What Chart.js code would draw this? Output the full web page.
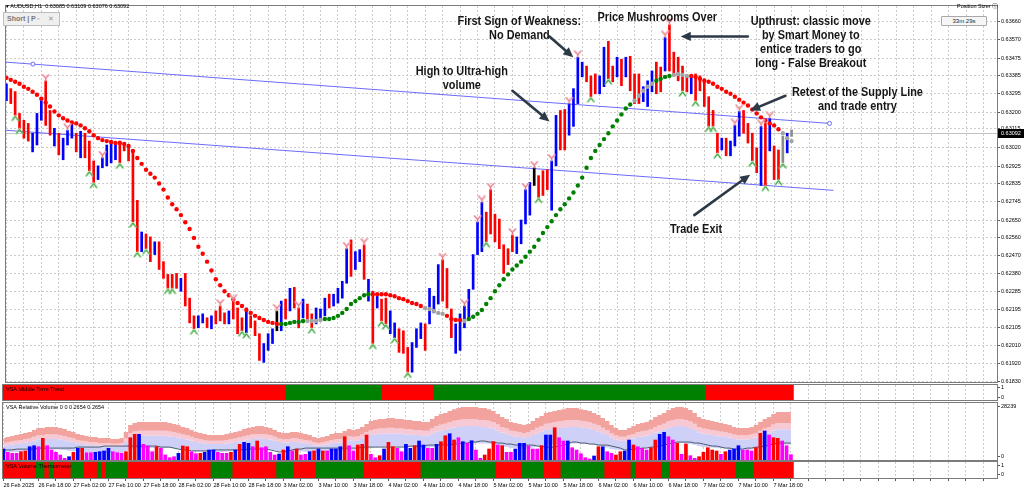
<!DOCTYPE html>
<html>
<head>
<meta charset="utf-8">
<script src="https://cdn.jsdelivr.net/npm/chart.js@4.4.1/dist/chart.umd.min.js"></script>
<style>
  html, body { margin: 0; padding: 0; background: #fff; }
  #wrap { position: relative; width: 1024px; height: 492px; overflow: hidden; background: #fff; }
  #wrap canvas { position: absolute; left: 0; }
  .shortbox { position: absolute; left: 3px; top: 12px; width: 52px; height: 12px; background: #efefef; border: 1px solid #bdbdbd;
    font: bold 7px 'Liberation Sans', Arial, sans-serif; color: #777; line-height: 12px; padding-left: 3px; box-sizing: content-box; }
  .shortbox .ic { position: absolute; top: 0; font-weight: normal; color: #999; }
  .timer { position: absolute; left: 941px; top: 16px; width: 44px; height: 8px; background: #f6f6f6; border: 1px solid #a9a9a9; border-radius: 1px;
    font: 6px 'Liberation Sans', Arial, sans-serif; color: #222; line-height: 8px; text-align: center; }
</style>
</head>
<body>
<div id="wrap">
  <canvas id="cThermo" width="1024" height="36" style="top:456px"></canvas>
  <canvas id="cVol" width="1024" height="69" style="top:397px"></canvas>
  <canvas id="cTrend" width="1024" height="27" style="top:379px"></canvas>
  <canvas id="cMain" width="1024" height="388" style="top:0px"></canvas>
  <div class="shortbox">Short | P<span class="ic" style="left:33px">&#9643;</span><span class="ic" style="left:44px">&#10005;</span></div>
  <div class="timer">33m 29s</div>
</div>
<script>
// ---- data (26 Feb 10:00 .. 7 Mar 22:00) ----
const timeLabels = ['26 Feb 2025', '26 Feb 18:00', '27 Feb 02:00', '27 Feb 10:00', '27 Feb 18:00', '28 Feb 02:00',
  '28 Feb 10:00', '28 Feb 18:00', '3 Mar 02:00', '3 Mar 10:00', '3 Mar 18:00', '4 Mar 02:00', '4 Mar 10:00',
  '4 Mar 18:00', '5 Mar 02:00', '5 Mar 10:00', '5 Mar 18:00', '6 Mar 02:00', '6 Mar 10:00', '6 Mar 18:00',
  '7 Mar 02:00', '7 Mar 10:00', '7 Mar 18:00'];

const priceTicks = [0.63660, 0.63570, 0.63475, 0.63385, 0.63295, 0.63200, 0.63115, 0.63020, 0.62925, 0.62835,
  0.62745, 0.62650, 0.62560, 0.62470, 0.62380, 0.62285, 0.62195, 0.62105, 0.62010, 0.61920, 0.61830];

const highs = [
  0.63344, 0.63319, 0.63304, 0.63193, 0.63158, 0.63142, 0.63092, 0.63193, 0.63258, 0.63359,
  0.63208, 0.63117, 0.63092, 0.63067, 0.63107, 0.63153, 0.63092, 0.63102, 0.63092, 0.63052,
  0.62951, 0.62926, 0.62967, 0.63032, 0.63052, 0.63042, 0.63052, 0.63042, 0.63032, 0.63007,
  0.62750, 0.62589, 0.62579, 0.62564, 0.62539, 0.62539, 0.62438, 0.62373, 0.62373, 0.62378,
  0.62353, 0.62378, 0.62252, 0.62162, 0.62162, 0.62172, 0.62152, 0.62162, 0.62187, 0.62212,
  0.62177, 0.62187, 0.62237, 0.62202, 0.62152, 0.62202, 0.62162, 0.62136, 0.62071, 0.62021,
  0.62071, 0.62096, 0.62187, 0.62237, 0.62247, 0.62302, 0.62307, 0.62202, 0.62247, 0.62222,
  0.62172, 0.62202, 0.62197, 0.62252, 0.62272, 0.62272, 0.62302, 0.62338, 0.62504, 0.62549,
  0.62489, 0.62499, 0.62524, 0.62348, 0.62287, 0.62272, 0.62247, 0.62252, 0.62187, 0.62126,
  0.62096, 0.62086, 0.62001, 0.62026, 0.62096, 0.62126, 0.62121, 0.62302, 0.62262, 0.62423,
  0.62448, 0.62403, 0.62197, 0.62121, 0.62172, 0.62212, 0.62297, 0.62474, 0.62640, 0.62740,
  0.62690, 0.62805, 0.62680, 0.62655, 0.62524, 0.62504, 0.62574, 0.62564, 0.62650, 0.62805,
  0.62841, 0.62916, 0.62876, 0.62901, 0.62906, 0.62951, 0.63183, 0.63208, 0.63213, 0.63243,
  0.63319, 0.63479, 0.63454, 0.63434, 0.63384, 0.63394, 0.63384, 0.63530, 0.63560, 0.63434,
  0.63479, 0.63469, 0.63479, 0.63484, 0.63394, 0.63394, 0.63329, 0.63359, 0.63409, 0.63454,
  0.63429, 0.63580, 0.63645, 0.63505, 0.63479, 0.63434, 0.63379, 0.63379, 0.63394, 0.63384,
  0.63369, 0.63278, 0.63208, 0.63092, 0.63067, 0.63067, 0.63052, 0.63132, 0.63203, 0.63208,
  0.63142, 0.63092, 0.63017, 0.63127, 0.63142, 0.63168, 0.63027, 0.63007, 0.63077, 0.63092,
  0.63109];

const lows = [
  0.63258, 0.63243, 0.63183, 0.63117, 0.63067, 0.63052, 0.62997, 0.63032, 0.63158, 0.63132,
  0.63082, 0.63027, 0.62982, 0.62957, 0.63032, 0.63067, 0.62997, 0.62967, 0.62967, 0.62901,
  0.62841, 0.62856, 0.62916, 0.62926, 0.62941, 0.62957, 0.62941, 0.63002, 0.62951, 0.62640,
  0.62489, 0.62489, 0.62504, 0.62438, 0.62474, 0.62398, 0.62353, 0.62302, 0.62302, 0.62302,
  0.62287, 0.62212, 0.62126, 0.62096, 0.62101, 0.62126, 0.62101, 0.62096, 0.62121, 0.62136,
  0.62121, 0.62121, 0.62146, 0.62071, 0.62086, 0.62076, 0.62101, 0.62061, 0.61935, 0.61925,
  0.61986, 0.62021, 0.62086, 0.62086, 0.62146, 0.62187, 0.62202, 0.62101, 0.62152, 0.62136,
  0.62101, 0.62121, 0.62136, 0.62162, 0.62202, 0.62212, 0.62227, 0.62252, 0.62328, 0.62363,
  0.62398, 0.62438, 0.62348, 0.62237, 0.62021, 0.62202, 0.62136, 0.62121, 0.62071, 0.62051,
  0.61976, 0.61971, 0.61875, 0.61875, 0.62001, 0.62046, 0.61986, 0.62121, 0.62177, 0.62222,
  0.62237, 0.62202, 0.62051, 0.61971, 0.61986, 0.62101, 0.62152, 0.62297, 0.62474, 0.62489,
  0.62539, 0.62579, 0.62539, 0.62504, 0.62378, 0.62423, 0.62489, 0.62479, 0.62529, 0.62630,
  0.62675, 0.62826, 0.62765, 0.62775, 0.62805, 0.62700, 0.62926, 0.63007, 0.63007, 0.63082,
  0.63127, 0.63243, 0.63379, 0.63354, 0.63278, 0.63293, 0.63293, 0.63329, 0.63369, 0.63354,
  0.63379, 0.63334, 0.63379, 0.63308, 0.63243, 0.63243, 0.63253, 0.63228, 0.63303, 0.63293,
  0.63303, 0.63409, 0.63409, 0.63384, 0.63359, 0.63308, 0.63303, 0.63293, 0.63258, 0.63308,
  0.63228, 0.63127, 0.63127, 0.62992, 0.63007, 0.62977, 0.62977, 0.63027, 0.63077, 0.63092,
  0.63042, 0.62951, 0.62891, 0.62826, 0.62826, 0.63002, 0.62856, 0.62856, 0.62941, 0.62992,
  0.63076];

// u = up (blue), d = down (red), k = black, g = grey
const barDir = 'uddddduuud' + 'duduuududd' + 'duuuuudddd' + 'dudduddddd' + 'uddduududd' +
  'dudddudddu' + 'uukududdud' + 'duuuduuuud' + 'uudududduu' + 'ddduuuduuu' +
  'ddduuuuuuu' + 'ddddddduuu' + 'ukddduuddu' + 'uuuddduudd' + 'ududdduuud' +
  'dudddddudd' + 'dddduduuud' + 'dddududdgug';

const maValues = [
  0.63374, 0.63364, 0.63354, 0.63344, 0.63329, 0.63318, 0.63303, 0.63288, 0.63268, 0.63248,
  0.63228, 0.63203, 0.63183, 0.63168, 0.63157, 0.63147, 0.63142, 0.63132, 0.63117, 0.63102,
  0.63082, 0.63067, 0.63057, 0.63052, 0.63047, 0.63042, 0.63042, 0.63037, 0.63027, 0.63002,
  0.62966, 0.62936, 0.62906, 0.62886, 0.62866, 0.62836, 0.62805, 0.62765, 0.62730, 0.62705,
  0.62675, 0.62639, 0.62604, 0.62559, 0.62514, 0.62478, 0.62438, 0.62393, 0.62348, 0.62318,
  0.62287, 0.62267, 0.62247, 0.62227, 0.62212, 0.62192, 0.62177, 0.62162, 0.62151, 0.62141,
  0.62131, 0.62126, 0.62121, 0.62121, 0.62121, 0.62126, 0.62131, 0.62131, 0.62136, 0.62136,
  0.62136, 0.62136, 0.62141, 0.62146, 0.62146, 0.62151, 0.62162, 0.62177, 0.62197, 0.62222,
  0.62237, 0.62252, 0.62267, 0.62272, 0.62272, 0.62272, 0.62272, 0.62272, 0.62267, 0.62262,
  0.62252, 0.62247, 0.62237, 0.62227, 0.62222, 0.62212, 0.62202, 0.62197, 0.62187, 0.62177,
  0.62172, 0.62162, 0.62146, 0.62141, 0.62141, 0.62136, 0.62146, 0.62157, 0.62172, 0.62192,
  0.62222, 0.62252, 0.62287, 0.62318, 0.62348, 0.62373, 0.62398, 0.62418, 0.62438, 0.62463,
  0.62489, 0.62514, 0.62549, 0.62584, 0.62614, 0.62644, 0.62675, 0.62705, 0.62730, 0.62760,
  0.62790, 0.62826, 0.62866, 0.62916, 0.62966, 0.63002, 0.63032, 0.63062, 0.63092, 0.63127,
  0.63157, 0.63188, 0.63218, 0.63238, 0.63258, 0.63283, 0.63308, 0.63329, 0.63344, 0.63359,
  0.63369, 0.63379, 0.63384, 0.63389, 0.63394, 0.63389, 0.63384, 0.63384, 0.63379, 0.63369,
  0.63359, 0.63354, 0.63344, 0.63329, 0.63318, 0.63303, 0.63293, 0.63278, 0.63263, 0.63248,
  0.63233, 0.63213, 0.63193, 0.63173, 0.63157, 0.63142, 0.63132, 0.63112, 0.63092, 0.63067,
  0.63052];
// colour of the moving-average dots: [first bar, state]
const maRuns = [[0, 'r'], [63, 'g'], [69, 'x'], [73, 'g'], [84, 'r'], [96, 'x'], [101, 'r'], [105, 'x'],
  [106, 'g'], [144, 'x'], [149, 'g'], [153, 'x'], [157, 'r'], [178, 'x']];

const topSignals = [9, 14, 22, 49, 52, 62, 67, 78, 82, 100, 105, 108, 109, 111, 116, 119, 121, 125, 129, 131,
  151, 152, 167, 168, 173, 175];
const bottomSignals = [2, 3, 19, 20, 26, 29, 30, 32, 37, 38, 43, 54, 55, 70, 84, 86, 87, 89, 92, 110, 122, 134,
  138, 155, 158, 161, 162, 163, 171, 174, 177, 178];

// hand drawn trend lines (bar index, price)
const supplyLine = [{x: -0.1, y: 0.63454}, {x: 6.07, y: 0.63444}, {x: 188.7, y: 0.63142}];
const demandLine = [{x: -0.1, y: 0.63107}, {x: 189.6, y: 0.62801}];
const lastPrice = 0.63092;

const trendRuns = [[0, 'r'], [65, 'g'], [87, 'r'], [99, 'g'], [161, 'r']];
const thermoRuns = [[0, 'r'], [8, 'g'], [10, 'r'], [11, 'g'], [12, 'r'], [16, 'g'], [19, 'r'], [22, 'g'], [23, 'r'],
  [24, 'g'], [29, 'r'], [48, 'g'], [53, 'r'], [63, 'g'], [67, 'r'], [72, 'g'], [83, 'r'], [96, 'g'], [113, 'r'],
  [119, 'g'], [124, 'r'], [128, 'g'], [138, 'r'], [144, 'g'], [145, 'r'], [151, 'g'], [153, 'r'], [168, 'g'], [172, 'r']];

// relative volume, thousands of ticks
const volume = [
  5.45, 3.81, 3.32, 3.32, 4.11, 4.46, 6.58, 7.08, 6.58, 10.74,
  7.08, 4.95, 3.81, 2.48, 0.84, 1.63, 3.81, 5.79, 5.79, 3.61,
  3.61, 3.81, 4.11, 4.46, 5.79, 4.11, 3.61, 3.32, 4.11, 11.04,
  12.72, 12.72, 7.77, 6.93, 4.11, 6.58, 5.79, 2.48, 1.14, 1.63,
  3.32, 6.93, 6.58, 4.11, 3.12, 3.32, 3.81, 4.95, 4.95, 3.81,
  3.32, 3.32, 3.81, 4.95, 7.77, 8.76, 8.27, 6.58, 9.41, 6.09,
  6.58, 3.81, 2.48, 2.97, 4.95, 6.58, 4.46, 5.45, 2.48, 2.82,
  4.11, 4.46, 5.45, 4.46, 4.46, 5.45, 5.45, 6.58, 11.53, 7.08,
  4.46, 7.43, 7.77, 12.38, 2.82, 1.14, 2.13, 5.45, 8.76, 6.58,
  5.79, 4.11, 7.77, 5.79, 7.08, 9.41, 7.43, 5.79, 5.79, 7.77,
  9.06, 12.03, 13.02, 9.90, 11.04, 9.06, 8.27, 9.55, 4.95, 0.84,
  2.48, 5.45, 9.06, 7.43, 7.08, 3.81, 3.81, 5.45, 8.27, 8.27,
  6.93, 5.45, 5.45, 7.08, 12.38, 12.38, 15.99, 11.04, 9.41, 9.41,
  6.09, 4.95, 3.12, 1.14, 0.50, 1.98, 6.58, 6.58, 4.11, 3.32,
  2.48, 4.11, 4.46, 9.90, 7.43, 6.58, 5.79, 4.95, 6.09, 9.90,
  12.72, 13.71, 11.53, 9.90, 8.27, 2.82, 7.92, 2.13, 0.84, 1.63,
  3.81, 6.09, 4.95, 4.46, 2.82, 4.11, 4.95, 5.45, 7.08, 4.95,
  4.95, 4.46, 6.09, 13.22, 14.36, 12.38, 11.04, 10.74, 9.41, 7.08,
  2.654];
// b = blue, m = magenta, r = red
const volColor = 'bmmmrrbbmr' + 'mmmmmbrbrm' + 'mbbbbmmmrr' + 'rbmmmrmmmm' + 'brrmmrbbbm' +
  'mmrbrbbmrm' + 'mmmbrbmrmm' + 'brbrmbbbrm' + 'mrrrmmrbrr' + 'mmbbrbbmmb' +
  'rrbrmbmbmm' + 'rrrmrmmbbb' + 'mmmrbbrmmb' + 'mmmmmbrbmm' + 'rrbbrmmmrr' +
  'bbmmrmrmmr' + 'rrrrmrbbbm' + 'mmrrbmrrmmm';

const volTop = [
  10.9, 11.4, 11.9, 12.4, 12.9, 13.4, 13.9, 14.9, 15.8, 15.8, 16.3, 16.3, 16.3, 15.8, 15.3, 14.4, 13.9, 12.9, 12.4, 11.9,
  11.4, 11.4, 10.9, 10.9, 10.9, 10.4, 10.4, 10.9, 13.9, 17.3, 18.3, 18.8, 18.8, 18.8, 18.8, 18.8, 18.8, 18.8, 18.3, 17.8,
  17.3, 16.3, 15.8, 14.9, 13.9, 13.4, 12.9, 12.4, 12.4, 12.4, 12.4, 12.9, 13.4, 13.9, 14.4, 15.3, 15.8, 16.3, 16.8, 16.8,
  16.3, 15.8, 14.9, 13.9, 13.4, 13.4, 13.9, 13.9, 13.4, 12.9, 12.4, 11.4, 10.9, 11.4, 11.9, 12.9, 13.4, 13.4, 14.4, 15.3,
  14.9, 15.3, 16.3, 17.8, 19.3, 19.8, 20.3, 20.3, 20.8, 20.8, 20.3, 20.3, 19.8, 19.8, 19.3, 19.3, 18.8, 18.8, 20.3, 21.8,
  22.8, 23.3, 24.3, 25.2, 25.7, 26.2, 26.2, 26.2, 26.2, 25.7, 25.7, 25.2, 24.3, 22.8, 21.3, 20.3, 18.8, 18.3, 17.8, 17.3,
  17.8, 19.3, 20.8, 21.8, 23.3, 23.8, 24.3, 24.8, 25.2, 25.7, 25.7, 25.7, 25.2, 24.8, 24.3, 23.3, 22.3, 20.8, 19.3, 17.3,
  15.8, 14.9, 14.9, 15.8, 16.8, 17.8, 18.3, 18.8, 19.8, 21.3, 22.3, 23.3, 24.8, 25.7, 26.2, 26.2, 25.7, 24.8, 23.3, 21.3,
  20.3, 19.8, 19.3, 18.8, 18.3, 17.8, 17.3, 16.3, 15.8, 15.8, 15.8, 16.3, 17.3, 18.8, 20.3, 21.3, 22.8, 23.8, 23.8, 23.8,
  23.8];
const volBandA = [
  8.4, 8.8, 9.2, 9.5, 9.9, 10.3, 10.7, 11.5, 12.2, 12.2, 12.6, 12.6, 12.6, 12.2, 11.8, 11.1, 10.7, 9.9, 9.5, 9.2,
  8.8, 8.8, 8.4, 8.4, 8.4, 8.0, 8.0, 8.4, 10.7, 13.3, 14.1, 14.5, 14.5, 14.5, 14.5, 14.5, 14.5, 14.5, 14.1, 13.7,
  13.3, 12.6, 12.2, 11.5, 10.7, 10.3, 9.9, 9.5, 9.5, 9.5, 9.5, 9.9, 10.3, 10.7, 11.1, 11.8, 12.2, 12.6, 12.9, 12.9,
  12.6, 12.2, 11.5, 10.7, 10.3, 10.3, 10.7, 10.7, 10.3, 9.9, 9.5, 8.8, 8.4, 8.8, 9.2, 9.9, 10.3, 10.3, 11.1, 11.8,
  11.5, 11.8, 12.6, 13.7, 14.9, 15.2, 15.6, 15.6, 16.0, 16.0, 15.6, 15.6, 15.2, 15.2, 14.9, 14.9, 14.5, 14.5, 15.6, 16.8,
  17.6, 17.9, 18.7, 19.4, 19.8, 20.2, 20.2, 20.2, 20.2, 19.8, 19.8, 19.4, 18.7, 17.6, 16.4, 15.6, 14.5, 14.1, 13.7, 13.3,
  13.7, 14.9, 16.0, 16.8, 17.9, 18.3, 18.7, 19.1, 19.4, 19.8, 19.8, 19.8, 19.4, 19.1, 18.7, 17.9, 17.2, 16.0, 14.9, 13.3,
  12.2, 11.5, 11.5, 12.2, 12.9, 13.7, 14.1, 14.5, 15.2, 16.4, 17.2, 17.9, 19.1, 19.8, 20.2, 20.2, 19.8, 19.1, 17.9, 16.4,
  15.6, 15.2, 14.9, 14.5, 14.1, 13.7, 13.3, 12.6, 12.2, 12.2, 12.2, 12.6, 13.3, 14.5, 15.6, 16.4, 17.6, 18.3, 18.3, 18.3,
  18.3];
const volBandB = [
  7.0, 7.3, 7.6, 7.9, 8.3, 8.6, 8.9, 9.5, 10.1, 10.1, 10.4, 10.4, 10.4, 10.1, 9.8, 9.2, 8.9, 8.3, 7.9, 7.6,
  7.3, 7.3, 7.0, 7.0, 7.0, 6.7, 6.7, 7.0, 8.9, 11.1, 11.7, 12.0, 12.0, 12.0, 12.0, 12.0, 12.0, 12.0, 11.7, 11.4,
  11.1, 10.4, 10.1, 9.5, 8.9, 8.6, 8.3, 7.9, 7.9, 7.9, 7.9, 8.3, 8.6, 8.9, 9.2, 9.8, 10.1, 10.4, 10.8, 10.8,
  10.4, 10.1, 9.5, 8.9, 8.6, 8.6, 8.9, 8.9, 8.6, 8.3, 7.9, 7.3, 7.0, 7.3, 7.6, 8.3, 8.6, 8.6, 9.2, 9.8,
  9.5, 9.8, 10.4, 11.4, 12.4, 12.7, 13.0, 13.0, 13.3, 13.3, 13.0, 13.0, 12.7, 12.7, 12.4, 12.4, 12.0, 12.0, 13.0, 14.0,
  14.6, 14.9, 15.6, 16.1, 16.4, 16.8, 16.8, 16.8, 16.8, 16.4, 16.4, 16.1, 15.6, 14.6, 13.6, 13.0, 12.0, 11.7, 11.4, 11.1,
  11.4, 12.4, 13.3, 14.0, 14.9, 15.2, 15.6, 15.9, 16.1, 16.4, 16.4, 16.4, 16.1, 15.9, 15.6, 14.9, 14.3, 13.3, 12.4, 11.1,
  10.1, 9.5, 9.5, 10.1, 10.8, 11.4, 11.7, 12.0, 12.7, 13.6, 14.3, 14.9, 15.9, 16.4, 16.8, 16.8, 16.4, 15.9, 14.9, 13.6,
  13.0, 12.7, 12.4, 12.0, 11.7, 11.4, 11.1, 10.4, 10.1, 10.1, 10.1, 10.4, 11.1, 12.0, 13.0, 13.6, 14.6, 15.2, 15.2, 15.2,
  15.2];
const volBandC = [
  3.5, 3.6, 3.8, 4.0, 4.1, 4.3, 4.4, 4.8, 5.1, 5.1, 5.2, 5.2, 5.2, 5.1, 4.9, 4.6, 4.4, 4.1, 4.0, 3.8,
  3.6, 3.6, 3.5, 3.5, 3.5, 3.3, 3.3, 3.5, 4.4, 5.5, 5.9, 6.0, 6.0, 6.0, 6.0, 6.0, 6.0, 6.0, 5.9, 5.7,
  5.5, 5.2, 5.1, 4.8, 4.4, 4.3, 4.1, 4.0, 4.0, 4.0, 4.0, 4.1, 4.3, 4.4, 4.6, 4.9, 5.1, 5.2, 5.4, 5.4,
  5.2, 5.1, 4.8, 4.4, 4.3, 4.3, 4.4, 4.4, 4.3, 4.1, 4.0, 3.6, 3.5, 3.6, 3.8, 4.1, 4.3, 4.3, 4.6, 4.9,
  4.8, 4.9, 5.2, 5.7, 6.2, 6.3, 6.5, 6.5, 6.7, 6.7, 6.5, 6.5, 6.3, 6.3, 6.2, 6.2, 6.0, 6.0, 6.5, 7.0,
  7.3, 7.5, 7.8, 8.1, 8.2, 8.4, 8.4, 8.4, 8.4, 8.2, 8.2, 8.1, 7.8, 7.3, 6.8, 6.5, 6.0, 5.9, 5.7, 5.5,
  5.7, 6.2, 6.7, 7.0, 7.5, 7.6, 7.8, 7.9, 8.1, 8.2, 8.2, 8.2, 8.1, 7.9, 7.8, 7.5, 7.1, 6.7, 6.2, 5.5,
  5.1, 4.8, 4.8, 5.1, 5.4, 5.7, 5.9, 6.0, 6.3, 6.8, 7.1, 7.5, 7.9, 8.2, 8.4, 8.4, 8.2, 7.9, 7.5, 6.8,
  6.5, 6.3, 6.2, 6.0, 5.9, 5.7, 5.5, 5.2, 5.1, 5.1, 5.1, 5.2, 5.5, 6.0, 6.5, 6.8, 7.3, 7.6, 7.6, 7.6,
  7.6];
const volMean = [
  5.0, 5.0, 5.0, 5.4, 5.4, 5.4, 5.4, 5.4, 5.9, 5.9, 5.9, 5.9, 5.9, 5.9, 5.9, 5.9, 5.9, 6.4, 6.4, 6.4,
  6.4, 6.4, 6.4, 6.9, 6.9, 6.9, 6.9, 6.9, 6.9, 6.9, 6.9, 6.9, 6.9, 6.9, 6.9, 6.9, 6.4, 6.4, 6.4, 5.9,
  5.4, 5.0, 5.0, 4.5, 4.5, 4.5, 4.5, 4.5, 5.0, 5.0, 5.0, 5.0, 5.0, 5.0, 5.0, 5.0, 5.4, 5.4, 5.4, 5.4,
  5.4, 5.0, 4.5, 4.0, 4.0, 4.5, 5.0, 5.4, 5.4, 5.9, 5.9, 5.9, 5.9, 5.9, 5.9, 5.9, 5.9, 5.9, 5.9, 5.9,
  5.9, 5.9, 6.4, 6.4, 6.4, 6.4, 6.4, 6.4, 6.4, 6.4, 6.4, 6.4, 6.4, 6.9, 6.9, 6.9, 6.9, 7.4, 7.4, 7.4,
  7.4, 7.4, 7.4, 7.9, 7.9, 8.4, 8.4, 8.9, 8.9, 9.4, 9.4, 8.9, 8.9, 8.4, 8.4, 7.9, 7.9, 7.4, 7.4, 7.4,
  7.4, 7.4, 6.9, 6.9, 6.4, 6.4, 6.4, 6.9, 7.4, 7.9, 8.9, 8.9, 8.4, 8.4, 7.9, 7.9, 7.4, 7.4, 7.4, 6.9,
  6.4, 5.9, 5.0, 5.0, 5.4, 5.4, 5.9, 5.9, 6.4, 6.4, 6.9, 7.4, 7.9, 8.4, 8.9, 8.9, 8.9, 8.9, 8.4, 8.4,
  7.9, 7.4, 6.9, 6.9, 6.4, 5.9, 5.9, 5.4, 5.4, 5.4, 5.9, 5.9, 6.4, 6.4, 6.9, 7.4, 7.9, 8.4, 8.4, 8.4,
  8.4];
const volMax = 28.239;

// chart notes: text anchored at (bar index, price); arrows from -> to
const notes = [
  {lines: ['High to Ultra-high', 'volume'], x: 104.4, y: 0.63409},
  {lines: ['First Sign of Weakness:', 'No Demand'], x: 117.6, y: 0.63660},
  {lines: ['Price Mushrooms Over'], x: 149.2, y: 0.63681},
  {lines: ['Upthrust: classic move', 'by Smart Money to', 'entice traders to go', 'long - False Breakout'], x: 184.4, y: 0.63660},
  {lines: ['Retest of the Supply Line', 'and trade entry'], x: 195.1, y: 0.63298},
  {lines: ['Trade Exit'], x: 158.1, y: 0.62604}
];
const arrows = [
  [116.0, 0.63308, 124.5, 0.63152],
  [124.5, 0.63585, 129.96, 0.63479],
  [169.96, 0.63585, 154.6, 0.63585],
  [178.6, 0.63283, 170.5, 0.63208],
  [157.7, 0.62675, 170.5, 0.62881]
];

// ---- helpers ----
const idx = highs.map((_, i) => i);
const RED = '#ff0000', GREEN = '#008000', BLUE = '#0000ff', MAGENTA = '#ff00ff';
function runColors(runs, map) {
  let k = 0;
  return idx.map(i => {
    while (k + 1 < runs.length && runs[k + 1][0] <= i) k++;
    return map[runs[k][1]];
  });
}
const FONT = "'Liberation Sans', 'DejaVu Sans', Arial, sans-serif";
Chart.defaults.font.family = FONT;
Chart.defaults.font.size = 5.5;
Chart.defaults.color = '#000';

const X_MIN = -0.1, X_MAX = 227.1;
function xAxis(labels) {
  return {
    type: 'linear', min: X_MIN, max: X_MAX, offset: false,
    afterBuildTicks: s => { const t = []; for (let v = 0; v <= X_MAX; v += 4) t.push({value: v}); s.ticks = t; },
    afterFit: s => { s.height = labels ? 14 : 0; },
    grid: {color: '#cccccc', offset: false, drawTicks: labels, tickLength: 3, tickColor: '#555'},
    border: {display: false, dash: [2, 2]},
    ticks: {display: labels, align: 'start', maxRotation: 0, autoSkip: false, padding: 1,
      callback: v => (v % 8 === 0 && timeLabels[v / 8]) ? timeLabels[v / 8] : ''}
  };
}
// labelAt: where the axis writes each label (MT4 keeps them just inside the panel edge)
function yAxis(min, max, ticks, fmt, grid) {
  return {
    position: 'right', min: min, max: max,
    afterBuildTicks: s => { s.ticks = ticks.map(v => ({value: v})); },
    afterFit: s => { s.width = 27; },
    grid: {color: '#cccccc', drawOnChartArea: grid, tickLength: 3, tickColor: '#555'},
    border: {display: false, dash: [2, 2]},
    ticks: {autoSkip: false, padding: 1, callback: fmt}
  };
}
const framePlugin = {
  id: 'frame',
  afterDraw(chart, args, opts) {
    const {ctx, chartArea: a} = chart;
    ctx.save();
    ctx.strokeStyle = '#7c7c7c';
    ctx.lineWidth = 1;
    ctx.strokeRect(a.left - 0.5, a.top - 0.5, a.right - a.left + 1, a.bottom - a.top + 1);
    if (opts && opts.title) {
      ctx.fillStyle = '#000';
      ctx.font = '5.5px ' + FONT;
      ctx.textBaseline = 'top';
      ctx.fillText(opts.title, a.left + 3, a.top + 2);
    }
    ctx.restore();
  }
};
const base = {responsive: false, animation: false, devicePixelRatio: 1, events: []};

function markImg(top) {
  const c = document.createElement('canvas');
  c.width = 9; c.height = 14;
  const g = c.getContext('2d');
  g.lineCap = 'round';
  const path = () => {
    g.beginPath();
    if (top) { g.moveTo(1.5, 1); g.lineTo(4.5, 4.5); g.lineTo(7.5, 1); g.moveTo(4.5, 4.5); g.lineTo(4.5, 6.5); }
    else { g.moveTo(1.5, 12); g.lineTo(4.5, 8); g.lineTo(7.5, 12); }
  };
  g.strokeStyle = top ? '#f7bcc4' : '#98e698'; g.lineWidth = 2; path(); g.stroke();
  g.strokeStyle = top ? '#d9606c' : '#1f6e1f'; g.lineWidth = 0.8; path(); g.stroke();
  return c;
}

// ---- main price panel ----
const mainPlugin = {
  id: 'mainExtras',
  beforeDatasetsDraw(chart) {
    const {ctx, chartArea: a, scales: {y}} = chart;
    const py = Math.round(y.getPixelForValue(lastPrice)) + 0.5;
    ctx.save();
    ctx.strokeStyle = '#c6c6c6';
    ctx.beginPath(); ctx.moveTo(a.left, py); ctx.lineTo(a.right, py); ctx.stroke();
    ctx.restore();
  },
  afterDatasetsDraw(chart) {
    const {ctx, scales: {x, y}} = chart;
    ctx.save();
    ctx.strokeStyle = '#2d3947'; ctx.fillStyle = '#2d3947';
    ctx.lineWidth = 2.6; ctx.lineCap = 'round';
    arrows.forEach(r => {
      const x1 = x.getPixelForValue(r[0]), y1 = y.getPixelForValue(r[1]);
      const x2 = x.getPixelForValue(r[2]), y2 = y.getPixelForValue(r[3]);
      const ang = Math.atan2(y2 - y1, x2 - x1), L = 10, W = 4.6;
      const bx = x2 - L * Math.cos(ang), by = y2 - L * Math.sin(ang);
      ctx.beginPath(); ctx.moveTo(x1, y1); ctx.lineTo(bx, by); ctx.stroke();
      ctx.beginPath(); ctx.moveTo(x2, y2);
      ctx.lineTo(bx - W * Math.sin(ang), by + W * Math.cos(ang));
      ctx.lineTo(bx + W * Math.sin(ang), by - W * Math.cos(ang));
      ctx.closePath(); ctx.fill();
    });
    // narrow bold face: condense a bold sans horizontally
    ctx.fillStyle = '#161616';
    ctx.font = "bold 13px 'Liberation Sans', Arial, sans-serif";
    ctx.textAlign = 'center'; ctx.textBaseline = 'middle';
    notes.forEach(n => {
      const px = x.getPixelForValue(n.x), py = y.getPixelForValue(n.y);
      ctx.save();
      ctx.translate(px, py);
      ctx.scale(0.84, 1);
      n.lines.forEach((t, k) => ctx.fillText(t, 0, k * 14));
      ctx.restore();
    });
    ctx.restore();
  },
  afterDraw(chart) {
    const {ctx, chartArea: a, scales: {y}} = chart;
    const py = Math.round(y.getPixelForValue(lastPrice));
    ctx.save();
    ctx.fillStyle = '#000';
    ctx.fillRect(a.right + 1, py - 4, 27, 9);
    ctx.fillStyle = '#fff';
    ctx.font = '5.5px ' + FONT;
    ctx.textBaseline = 'middle';
    ctx.fillText(lastPrice.toFixed(5), a.right + 4, py + 0.5);
    ctx.fillStyle = '#000';
    ctx.fillText('\u25BE AUDUSD,H1  0.63085 0.63109 0.63076 0.63092', 6, 6);
    ctx.fillText('Position Sizer \u24D8', 957, 6);
    ctx.restore();
  }
};

new Chart(document.getElementById('cMain'), {
  type: 'bar',
  data: {
    datasets: [
      {type: 'scatter', data: topSignals.map(i => ({x: i, y: highs[i]})), pointStyle: markImg(true), pointRadius: 5, order: 0},
      {type: 'scatter', data: bottomSignals.map(i => ({x: i, y: lows[i]})), pointStyle: markImg(false), pointRadius: 5, order: 0},
      {type: 'scatter', data: idx.map(i => ({x: i, y: maValues[i]})), pointRadius: 2.2, pointBorderWidth: 0,
        pointBackgroundColor: runColors(maRuns, {r: RED, g: GREEN, x: '#a3a3a3'}), order: 1},
      {type: 'bar', data: idx.map(i => ({x: i, y: [lows[i], highs[i]]})), barThickness: 2, grouped: false,
        backgroundColor: idx.map(i => ({u: BLUE, d: RED, k: '#000', g: '#8c8c8c'})[barDir[i]]), order: 2},
      {type: 'line', data: supplyLine, borderColor: '#6b6bff', borderWidth: 1, pointRadius: [0, 2, 2],
        pointBackgroundColor: '#fff', pointBorderColor: '#6b6bff', pointBorderWidth: 1, order: 3},
      {type: 'line', data: demandLine, borderColor: '#6b6bff', borderWidth: 1, pointRadius: 0, order: 3}
    ]
  },
  options: Object.assign({}, base, {
    layout: {padding: {left: 3, top: 1, right: 0, bottom: 6}},
    plugins: {legend: {display: false}, tooltip: {enabled: false}, frame: {}},
    scales: {
      x: xAxis(false),
      y: yAxis(0.61825, 0.63740, priceTicks, v => v.toFixed(5), true)
    }
  }),
  plugins: [framePlugin, mainPlugin]
});

// ---- VSA Middle Term Trend ----
// axis labels 1 / 0 sit a few pixels inside the strip, as MT4 draws them
new Chart(document.getElementById('cTrend'), {
  type: 'bar',
  data: {datasets: [{data: idx.map(i => ({x: i, y: [0, 1]})), barThickness: 5, grouped: false,
    backgroundColor: runColors(trendRuns, {r: RED, g: GREEN})}]},
  options: Object.assign({}, base, {
    layout: {padding: {left: 3, top: 6, right: 0, bottom: 6}},
    plugins: {legend: {display: false}, tooltip: {enabled: false}, frame: {title: 'VSA Middle Term Trend'}},
    scales: {x: xAxis(false), y: yAxis(0, 1, [0.17, 0.83], v => (v > 0.5 ? '1' : '0'), false)}
  }),
  plugins: [framePlugin]
});

// ---- VSA Relative Volume ----
const band = (data, fill, color, order) => ({type: 'line', data: idx.map(i => ({x: i, y: data[i]})), fill: fill,
  backgroundColor: color, borderWidth: 0, pointRadius: 0, stepped: 'middle', order: order});
new Chart(document.getElementById('cVol'), {
  type: 'bar',
  data: {
    datasets: [
      band(volTop, '+1', '#f3a39e', 5),
      band(volBandA, '+1', '#f7c9d5', 5),
      band(volBandB, '+1', '#cfd0f7', 5),
      band(volBandC, false, 'rgba(0,0,0,0)', 5),
      {type: 'line', data: idx.map(i => ({x: i, y: volMean[i]})), borderColor: '#4a5d6c', borderWidth: 1,
        pointRadius: 0, fill: false, order: 1},
      {type: 'bar', data: idx.map(i => ({x: i, y: volume[i]})), barThickness: 3, grouped: false,
        backgroundColor: idx.map(i => ({b: BLUE, m: MAGENTA, r: RED})[volColor[i]]), order: 0}
    ]
  },
  options: Object.assign({}, base, {
    layout: {padding: {left: 3, top: 6, right: 0, bottom: 6}},
    plugins: {legend: {display: false}, tooltip: {enabled: false},
      frame: {title: 'VSA Relative Volume 0 0 0 2654 0 2654'}},
    scales: {x: xAxis(false), y: yAxis(0, volMax, [1.5, volMax - 1.6],
      v => (v > volMax / 2 ? String(Math.round(volMax * 1000)) : '0'), false)}
  }),
  plugins: [framePlugin]
});

// ---- VSA Volume Thermometer + time axis ----
new Chart(document.getElementById('cThermo'), {
  type: 'bar',
  data: {datasets: [{data: idx.map(i => ({x: i, y: [0, 1]})), barThickness: 5, grouped: false,
    backgroundColor: runColors(thermoRuns, {r: RED, g: GREEN})}]},
  options: Object.assign({}, base, {
    layout: {padding: {left: 3, top: 6, right: 0, bottom: 0}},
    plugins: {legend: {display: false}, tooltip: {enabled: false}, frame: {title: 'VSA Volume Thermometer'}},
    scales: {x: xAxis(true), y: yAxis(0, 1, [0.2, 0.8], v => (v > 0.5 ? '1' : '0'), false)}
  }),
  plugins: [framePlugin]
});
</script>
</body>
</html>
